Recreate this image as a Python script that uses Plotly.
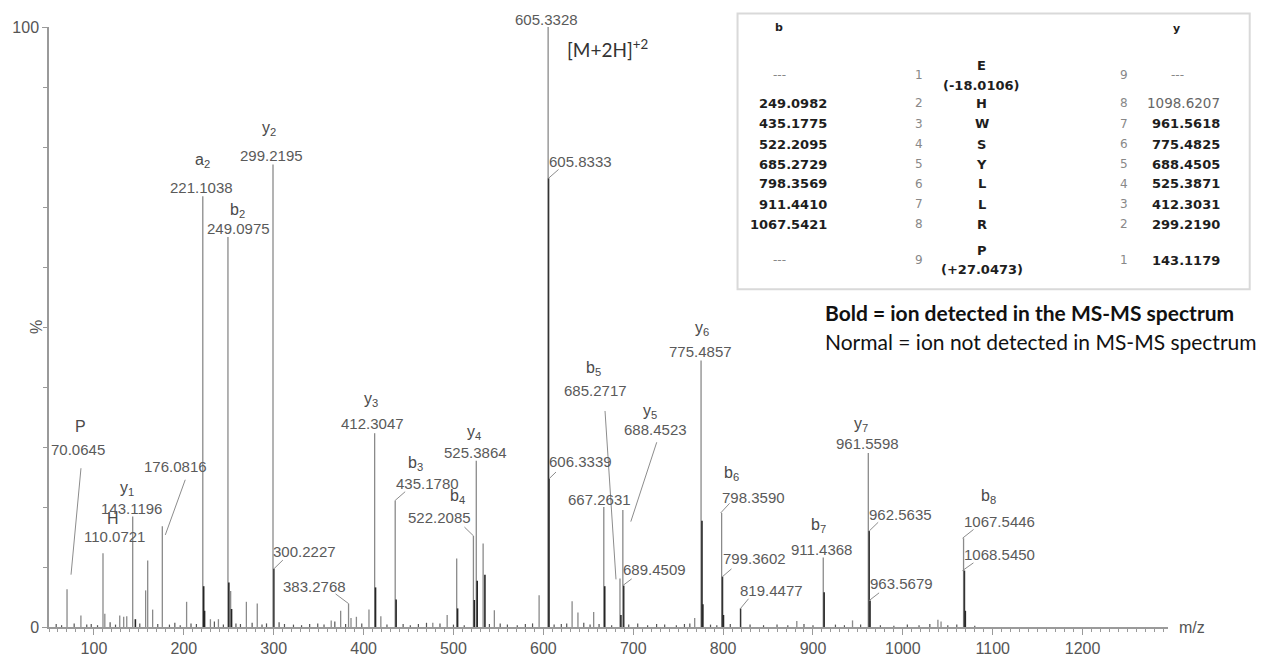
import plotly.graph_objects as go

# ---------------------------------------------------------------- data
# labeled fragment ions (m/z, relative intensity %, ion name)
frag_mz = [70.0645, 110.0721, 143.1196, 176.0816, 221.1038, 249.0975, 299.2195,
           383.2768, 412.3047, 435.1780, 522.2085, 525.3864, 605.3328, 667.2631,
           685.2717, 688.4523, 775.4857, 798.3590, 911.4368, 961.5598, 1067.5446]
frag_int = [6.3, 12.3, 18.4, 16.8, 71.8, 65.0, 77.1,
            3.9, 32.3, 21.1, 15.2, 27.7, 100.0, 20.0,
            8.1, 19.5, 44.4, 19.0, 11.6, 29.0, 14.8]
frag_ion = ["P", "H", "y<sub>1</sub>", "", "a<sub>2</sub>", "b<sub>2</sub>", "y<sub>2</sub>",
            "", "y<sub>3</sub>", "b<sub>3</sub>", "b<sub>4</sub>", "y<sub>4</sub>", "", "",
            "b<sub>5</sub>", "y<sub>5</sub>", "y<sub>6</sub>", "b<sub>6</sub>", "b<sub>7</sub>",
            "y<sub>7</sub>", "b<sub>8</sub>"]

# labeled isotope / secondary peaks
iso_mz = [300.2227, 605.8333, 606.3339, 689.4509, 799.3602, 819.4477,
          962.5635, 963.5679, 1068.5450]
iso_int = [9.7, 74.8, 24.7, 6.9, 8.4, 3.1, 16.0, 4.4, 9.4]

# unlabeled peaks
other_mz = [85.5, 112.1, 128.7, 133.1, 136.5, 157.5, 159.8, 165.3, 203.1, 229.6,
            238.5, 252.1, 269.6, 281.7, 364.0, 374.5, 386.0, 392.0, 406.0, 419.2,
            477.0, 493.0, 503.6, 533.0, 545.5, 595.3, 632.0, 638.5, 656.0, 768.4,
            882.0, 944.0, 1039.0, 1042.5]
other_int = [1.9, 2.2, 1.9, 1.7, 1.8, 6.1, 11.1, 2.9, 4.2, 1.3,
             1.3, 6.0, 4.2, 3.9, 1.1, 2.7, 1.5, 1.7, 2.9, 1.8,
             0.7, 2.0, 11.4, 13.9, 2.8, 5.3, 4.3, 2.4, 2.5, 1.5,
             1.0, 1.1, 1.2, 0.9]

# overlapping neighbour peaks under the main lines
inner_mz = [146.1, 222.1, 223.1, 250.1, 253.1, 413.3, 436.2, 504.6, 523.2, 526.4,
            535.0, 668.3, 686.3, 776.5, 777.5, 800.4, 912.4, 1069.5]
inner_int = [1.3, 6.8, 2.7, 7.4, 3.0, 6.6, 4.6, 3.1, 4.5, 7.7,
             8.7, 6.8, 2.0, 17.7, 3.8, 2.0, 5.8, 2.7]

# baseline noise
noise_mz = [58, 64, 78, 92, 97, 104, 118, 124, 151, 171, 184, 190, 196, 208, 214,
            234, 244, 258, 263, 276, 287, 292, 306, 312, 322, 331, 340, 349, 356,
            368, 380, 398, 426, 444, 452, 461, 470, 485, 500, 512, 540, 552, 560,
            571, 580, 588, 612, 620, 626, 645, 652, 662, 676, 695, 705, 716, 726,
            735, 748, 757, 763, 786, 793, 808, 830, 845, 860, 872, 890, 900, 925,
            935, 953, 975, 990, 1005, 1018, 1030, 1050, 1060, 1080]
noise_int = [0.5, 0.3, 0.6, 0.4, 0.5, 0.3, 0.8, 0.4, 0.6, 0.5, 0.4, 0.7, 0.3, 0.6, 0.5,
             0.9, 0.4, 0.6, 0.5, 0.7, 0.4, 0.6, 0.8, 0.5, 0.4, 0.3, 0.5, 0.6, 0.4,
             0.9, 0.5, 0.6, 0.4, 0.5, 0.3, 0.5, 0.7, 0.6, 0.4, 0.3, 0.5, 0.6, 0.4,
             0.3, 0.5, 0.6, 0.4, 0.5, 0.6, 0.7, 0.4, 0.5, 0.3, 0.4, 0.6, 0.3, 0.5,
             0.4, 0.3, 0.5, 0.6, 0.4, 0.3, 0.5, 0.4, 0.3, 0.4, 0.3, 0.5, 0.3, 0.4,
             0.3, 0.4, 0.3, 0.2, 0.4, 0.3, 0.5, 0.3, 0.4, 0.2]

# fragment table for the peptide
tbl_residue = ["E", "H", "W", "S", "Y", "L", "L", "R", "P"]
tbl_mod = ["(-18.0106)", "", "", "", "", "", "", "", "(+27.0473)"]
tbl_b = ["---", "249.0982", "435.1775", "522.2095", "685.2729", "798.3569",
         "911.4410", "1067.5421", "---"]
tbl_y = ["---", "1098.6207", "961.5618", "775.4825", "688.4505", "525.3871",
         "412.3031", "299.2190", "143.1179"]
tbl_y_detected = [False, False, True, True, True, True, True, True, True]

# ---------------------------------------------------------------- layout
W_FIG, H_FIG = 1282, 669
ML, MR, MT, MB = 45, 114, 27, 22
X_RANGE = [50, 1295]
Y_RANGE = [0, 100]
PW = W_FIG - ML - MR
PH = H_FIG - MT - MB
SX = PW / (X_RANGE[1] - X_RANGE[0])
SY = PH / (Y_RANGE[1] - Y_RANGE[0])


def pxx(px):
    return (px - ML) / PW


def pxy(py):
    return (H_FIG - MB - py) / PH


NUM_FONT = dict(family="Liberation Sans, Arial, sans-serif", size=15, color="#5a5a5a")
ION_FONT = dict(family="Liberation Sans, Arial, sans-serif", size=16, color="#4a4a4a")
LEADER = dict(color="#8c8c8c", width=1)

# label offsets in px relative to the peak top:
# (number dx, number dy, ion dx, ion dy, leader (x0, y0, x1, y1) or None)
LABEL_POS = {
    70.0645: (11, -140, 13, -163, (14, -125, 4, -15)),
    110.0721: (12, -17, 10, -35, None),
    143.1196: (-1, -8, -6, -28, None),
    176.0816: (13, -60, 0, 0, (23, -48, 3, 9)),
    221.1038: (-1, -9, 0, -36, None),
    249.0975: (11, -9, 10, -27, None),
    299.2195: (-2, -9, -4, -36, None),
    383.2768: (-34, -17, 0, 0, (-13, -10, 0, 0)),
    412.3047: (-2, -10, -4, -34, None),
    435.1780: (32, -17, 20, -37, (10, -9, 0, 0)),
    522.2085: (-34, -18, -16, -39, (-9, -9, 0, 0)),
    525.3864: (-1, -8, -2, -28, None),
    605.3328: (-2, -8, 0, 0, None),
    667.2631: (-4, -8, 0, 0, None),
    685.2717: (-24, -188, -26, -210, (-15, -173, -4, 1)),
    688.4523: (33, -81, 27, -99, (34, -70, 8, 12)),
    775.4857: (-1, -9, 1, -32, None),
    798.3590: (32, -16, 10, -40, (8, -10, -1, 0)),
    911.4368: (-2, -8, -5, -32, None),
    961.5598: (-1, -10, -7, -29, None),
    1067.5446: (36, -17, 25, -42, (10, -9, -1, 0)),
    300.2227: (31, -17, 0, 0, (9, -9, 0, 0)),
    605.8333: (32, -17, 0, 0, (10, -9, 0, 0)),
    606.3339: (31, -17, 0, 0, (7, -7, 0, 0)),
    689.4509: (31, -16, 0, 0, (8, -7, -1, 0)),
    799.3602: (32, -18, 0, 0, (9, -8, 0, 0)),
    819.4477: (31, -18, 0, 0, (8, -10, 0, 0)),
    962.5635: (31, -17, 0, 0, (9, -9, 0, 0)),
    963.5679: (31, -17, 0, 0, (9, -8, -1, 0)),
    1068.5450: (35, -16, 0, 0, (9, -8, -2, 0)),
}


def stick_xy(mzs, ints):
    xs, ys = [], []
    for m, h in zip(mzs, ints):
        xs += [m, m, None]
        ys += [0, h, None]
    return xs, ys


fig = go.Figure()
for mzs, ints, color, width in [
    (noise_mz, noise_int, "#555555", 1.2),
    (other_mz, other_int, "#8a8a8a", 1.3),
    (frag_mz, frag_int, "#8a8a8a", 1.3),
    (inner_mz, inner_int, "#262626", 1.6),
    (iso_mz, iso_int, "#333333", 1.5),
]:
    xs, ys = stick_xy(mzs, ints)
    fig.add_trace(go.Scatter(x=xs, y=ys, mode="lines", hoverinfo="skip",
                             line=dict(color=color, width=width), cliponaxis=False,
                             showlegend=False))

annotations = []
shapes = []

labeled = list(zip(frag_mz, frag_int, frag_ion)) + [(m, h, "") for m, h in zip(iso_mz, iso_int)]
for m, h, ion in labeled:
    ndx, ndy, idx, idy, lead = LABEL_POS[m]
    annotations.append(dict(x=m, y=h, xref="x", yref="y", text=f"{m:.4f}",
                            xshift=ndx, yshift=-ndy, showarrow=False,
                            xanchor="center", yanchor="middle", font=NUM_FONT))
    if ion:
        annotations.append(dict(x=m, y=h, xref="x", yref="y", text=ion,
                                xshift=idx, yshift=-idy, showarrow=False,
                                xanchor="center", yanchor="middle", font=ION_FONT))
    if lead:
        x0, y0, x1, y1 = lead
        shapes.append(dict(type="line", xref="x", yref="y",
                           x0=m + x0 / SX, y0=h - y0 / SY,
                           x1=m + x1 / SX, y1=h - y1 / SY, line=LEADER))

# precursor annotation
annotations.append(dict(x=frag_mz[12], y=frag_int[12], xref="x", yref="y",
                        text="[M+2H]<sup>+2</sup>", xshift=17, yshift=-21,
                        showarrow=False, xanchor="left", yanchor="middle",
                        font=dict(family="Lato, sans-serif", size=19, color="#333333")))

# axis captions
annotations.append(dict(x=pxx(32), y=pxy(337), xref="paper", yref="paper", text="%",
                        textangle=-90, showarrow=False, xanchor="center", yanchor="middle",
                        font=dict(family="Liberation Sans, Arial", size=16, color="#555555")))
annotations.append(dict(x=pxx(1177), y=pxy(647), xref="paper", yref="paper", text="m/z",
                        showarrow=False, xanchor="left", yanchor="middle",
                        font=dict(family="Liberation Sans, Arial", size=16, color="#555555")))

# fragment table
shapes.append(dict(type="rect", xref="paper", yref="paper",
                   x0=pxx(736), x1=pxx(1250), y0=pxy(298), y1=pxy(13),
                   line=dict(color="#d9d9d9", width=2), fillcolor="white", layer="above"))

TBL = "DejaVu Sans, Verdana, sans-serif"
ROW_Y = [77, 106, 127, 148, 169, 189, 210, 231, 268]
COL_B, COL_BI, COL_RES, COL_YI, COL_Y = 828, 918, 981, 1124, 1222


def tbl_text(px, py, text, size=13, color="#1e1e1e", anchor="center"):
    annotations.append(dict(x=pxx(px), y=pxy(py), xref="paper", yref="paper", text=text,
                            showarrow=False, xanchor=anchor, yanchor="middle",
                            font=dict(family=TBL, size=size, color=color)))


tbl_text(778, 27, "<b>b</b>", size=11)
tbl_text(1177, 29, "<b>y</b>", size=11)
n = len(tbl_residue)
for i in range(n):
    ry = ROW_Y[i]
    if tbl_b[i] == "---":
        tbl_text(778, ry, "---", size=12, color="#888888")
    else:
        tbl_text(COL_B, ry, f"<b>{tbl_b[i]}</b>", anchor="right")
    tbl_text(COL_BI, ry, str(i + 1), size=12, color="#888888")
    if tbl_mod[i]:
        tbl_text(COL_RES, ry - 10, f"<b>{tbl_residue[i]}</b>")
        tbl_text(COL_RES, ry + 10, f"<b>{tbl_mod[i]}</b>")
    else:
        tbl_text(COL_RES, ry, f"<b>{tbl_residue[i]}</b>")
    tbl_text(COL_YI, ry, str(n - i), size=12, color="#888888")
    if tbl_y[i] == "---":
        tbl_text(1178, ry, "---", size=12, color="#888888")
    elif tbl_y_detected[i]:
        tbl_text(COL_Y, ry, f"<b>{tbl_y[i]}</b>", anchor="right")
    else:
        tbl_text(COL_Y, ry, tbl_y[i], size=13.5, color="#666666", anchor="right")

# key for the table
KEY_FONT = dict(family="Lato, sans-serif", size=21, color="#111111")
annotations.append(dict(x=pxx(822), y=pxy(322), xref="paper", yref="paper",
                        text="<b>Bold = ion detected in the MS-MS spectrum</b>",
                        showarrow=False, xanchor="left", yanchor="middle", font=KEY_FONT))
annotations.append(dict(x=pxx(822), y=pxy(352), xref="paper", yref="paper",
                        text="Normal = ion not detected in MS-MS spectrum",
                        showarrow=False, xanchor="left", yanchor="middle", font=KEY_FONT))

AXIS_COLOR = "#9a9a9a"
TICK_FONT = dict(family="Liberation Sans, Arial, sans-serif", size=16, color="#555555")

fig.update_layout(
    width=W_FIG, height=H_FIG,
    margin=dict(l=ML, r=MR, t=MT, b=MB),
    paper_bgcolor="white", plot_bgcolor="white",
    showlegend=False,
    annotations=annotations, shapes=shapes,
    xaxis=dict(range=X_RANGE, showgrid=False, zeroline=False, showline=True,
               linecolor=AXIS_COLOR, linewidth=1.5, ticks="outside", ticklen=6,
               tickcolor=AXIS_COLOR, tickwidth=1, tick0=0, dtick=100,
               tickfont=TICK_FONT,
               minor=dict(dtick=10, ticks="outside", ticklen=3, tickcolor=AXIS_COLOR)),
    yaxis=dict(range=Y_RANGE, showgrid=False, zeroline=False, showline=True,
               linecolor=AXIS_COLOR, linewidth=1.5, ticks="outside", ticklen=5,
               tickcolor=AXIS_COLOR, tickvals=[0, 100], ticktext=["0", "100"],
               tickfont=TICK_FONT,
               minor=dict(tickvals=list(range(10, 100, 10)), ticks="outside",
                          ticklen=4, tickcolor=AXIS_COLOR)),
)

fig.write_html("out.html")
